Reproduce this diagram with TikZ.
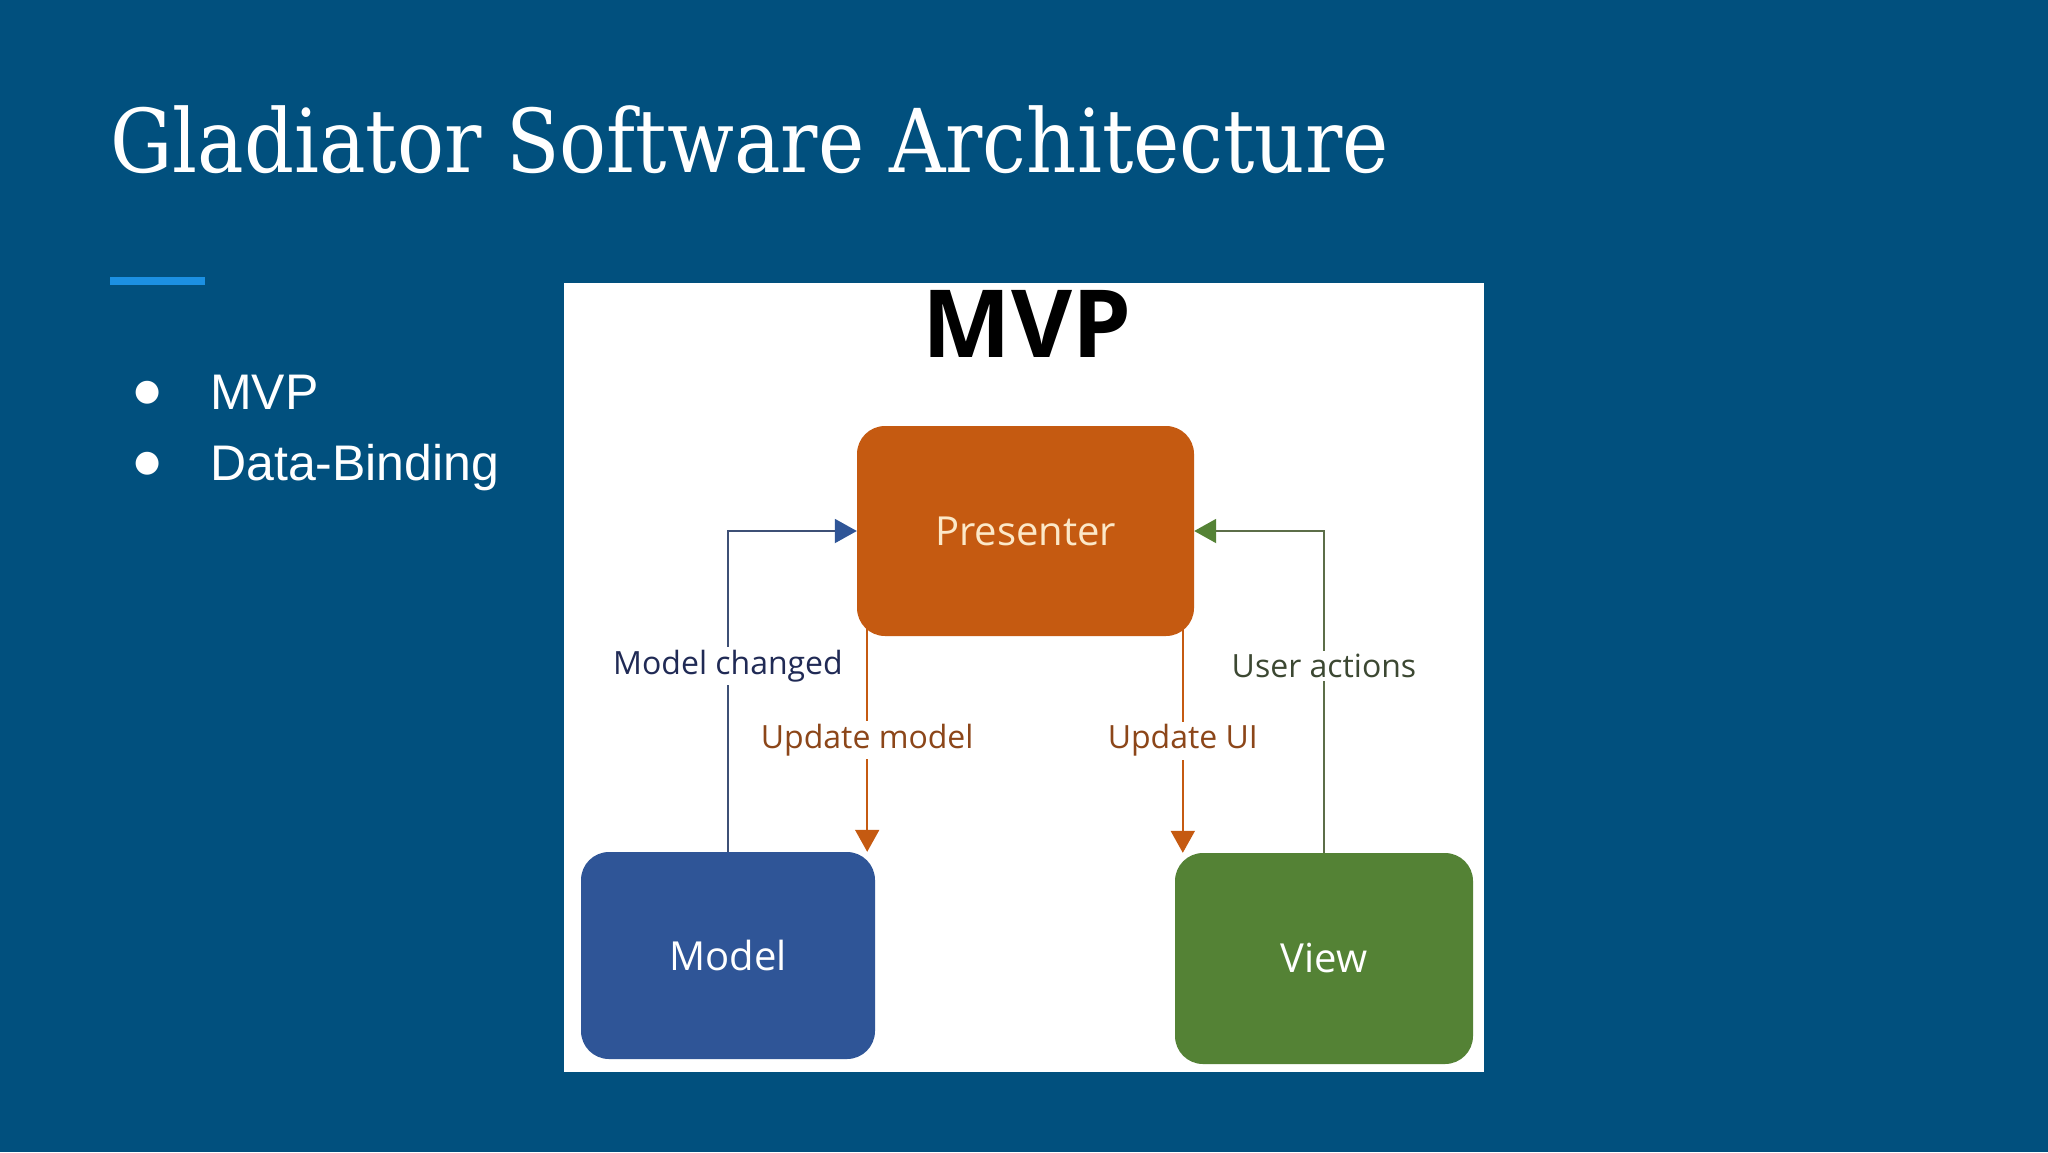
\documentclass[tikz,border=0pt]{standalone}
\usepackage{fontspec}
\setmainfont{Open Sans}
\newfontfamily\titlefont{DejaVu Serif}
\newfontfamily\itemfont{Liberation Sans}
\newfontfamily\dotfont{DejaVu Sans}
\usetikzlibrary{arrows.meta,positioning}

\definecolor{slidebg}{RGB}{1,80,126}
\definecolor{accent}{RGB}{28,144,226}
\definecolor{presorange}{RGB}{197,90,17}
\definecolor{prestext}{RGB}{252,232,200}
\definecolor{modelblue}{RGB}{47,85,151}
\definecolor{viewgreen}{RGB}{84,130,53}
\definecolor{navytext}{RGB}{32,42,85}
\definecolor{browntext}{RGB}{140,70,25}
\definecolor{greentext}{RGB}{60,72,50}
\definecolor{blueline}{RGB}{62,80,118}
\definecolor{greenline}{RGB}{92,110,72}

\begin{document}
\begin{tikzpicture}[x=1pt,y=-1pt,
    box node/.style={rectangle,rounded corners=28pt,font=\fontsize{40}{48}\selectfont},
    lbl node/.style={fill=white,inner sep=3pt,font=\fontsize{32}{36}\selectfont},
    item node/.style={anchor=base west,inner sep=0pt,text=white,font=\itemfont\fontsize{50}{60}\selectfont},
    dot node/.style={inner sep=0pt,text=white,font=\dotfont\fontsize{30}{36}\selectfont},
    conn line/.style={line width=2pt}]

  % slide
  \fill[slidebg] (0,0) rectangle (2048,1152);
  \useasboundingbox (0,0) rectangle (2048,1152);
  \node[anchor=base west,inner sep=0pt,text=white,transform shape,xscale=0.888,
    font=\titlefont\fontsize{88}{100}\selectfont]
    (title) at (110,172) {Gladiator Software Architecture};
  \fill[accent] (110,277) rectangle (205,285);

  \node[dot node] (d1) at (148,393) {●};
  \node[item node] (i1) at (210,409) {MVP};
  \node[dot node] (d2) at (148,464) {●};
  \node[item node] (i2) at (210,480) {Data-Binding};

  % picture
  \fill[white] (564,283) rectangle (1484,1072);
  \node[font=\fontsize{94}{100}\selectfont\bfseries] (mvp) at (1027,324) {MVP};

  \node[box node,fill=presorange,text=prestext,minimum width=337pt,minimum height=210pt]
    (P) at (1025.5,531) {Presenter};
  \node[box node,fill=modelblue,text=white,minimum width=294pt,minimum height=207pt,
    on grid,below left=424.5pt and 297.5pt of P] (M) {Model};
  \node[box node,fill=viewgreen,text=white,minimum width=298pt,minimum height=211pt,
    on grid,below right=427.5pt and 298.5pt of P] (V) {View};

  \coordinate (um) at ([xshift=-8pt]M.north east);
  \coordinate (uu) at ([xshift=8pt]V.north west);

  \draw[conn line,blueline,-{Triangle[length=22pt,width=24pt,color=modelblue]}]
    (M.north) |- node[lbl node,text=navytext,pos=0.29] {Model changed} (P.west);
  \draw[conn line,presorange,-{Triangle[length=22pt,width=24pt]}]
    ([yshift=8pt]P.south -| um) -- node[lbl node,text=browntext] {Update model} (um);
  \draw[conn line,presorange,-{Triangle[length=22pt,width=24pt]}]
    ([yshift=8pt]P.south -| uu) -- node[lbl node,text=browntext] {Update UI} (uu);
  \draw[conn line,greenline,-{Triangle[length=22pt,width=24pt,color=viewgreen]}]
    (V.north) |- node[lbl node,text=greentext,pos=0.29] {User actions} (P.east);
\end{tikzpicture}
\end{document}
